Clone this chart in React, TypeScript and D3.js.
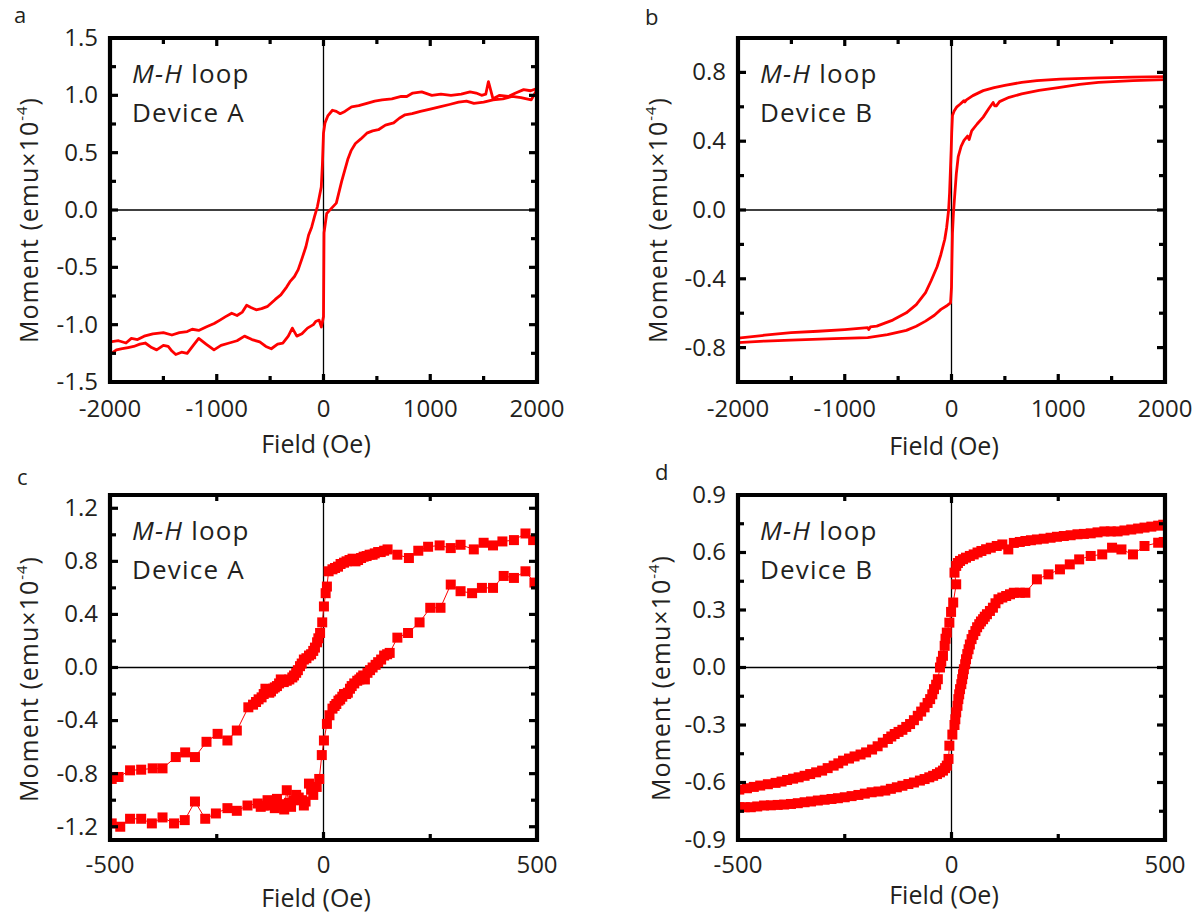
import React from 'react';
import * as d3 from 'd3';

const W = 1203;
const H = 918;
const RED = '#ff0000';
const INK = '#231f20';
const FONT = '"Open Sans", "Noto Sans", sans-serif';

type Pt = [number, number];

// ---- panel a : Device A, +-2000 Oe (line)
const aAscending: Pt[] = [
  [-2000, -1.26], [-1940, -1.22], [-1885, -1.21], [-1830, -1.2], [-1778, -1.19], [-1720, -1.17], [-1670, -1.16],
  [-1610, -1.2], [-1563, -1.22], [-1500, -1.18], [-1455, -1.19], [-1420, -1.23], [-1384, -1.26], [-1330, -1.24],
  [-1277, -1.25], [-1220, -1.18], [-1169, -1.12], [-1100, -1.17], [-1026, -1.22], [-960, -1.18], [-883, -1.16],
  [-810, -1.14], [-740, -1.1], [-670, -1.13], [-597, -1.15], [-540, -1.19], [-489, -1.21], [-430, -1.17],
  [-381, -1.16], [-330, -1.1], [-292, -1.03], [-250, -1.1], [-202, -1.08], [-150, -1.03], [-95, -1.0],
  [-70, -0.97], [-41, -0.96], [-20, -1.02], [0, -0.93], [5, -0.2], [30, -0.03], [70, 0.01], [120, 0.06],
  [170, 0.25], [227, 0.44], [260, 0.52], [299, 0.58], [350, 0.62], [406, 0.67], [460, 0.69], [514, 0.7],
  [580, 0.74], [657, 0.76], [710, 0.8], [764, 0.83], [830, 0.84], [908, 0.86], [1000, 0.88], [1087, 0.9],
  [1180, 0.92], [1266, 0.94], [1340, 0.95], [1409, 0.93], [1500, 0.94], [1588, 0.96], [1680, 0.97],
  [1767, 0.99], [1850, 0.98], [1946, 0.96], [2000, 1.05],
];
const aDescending: Pt[] = [
  [2000, 1.06], [1940, 1.04], [1875, 1.05], [1800, 1.02], [1731, 0.99], [1650, 1.0], [1588, 0.97],
  [1545, 1.12], [1520, 1.01], [1481, 1.0], [1430, 1.02], [1373, 1.03], [1290, 1.01], [1194, 1.0], [1100, 1.01],
  [1015, 1.0], [920, 1.03], [836, 1.02], [780, 0.99], [728, 0.99], [640, 0.97], [549, 0.96], [480, 0.95],
  [406, 0.93], [330, 0.91], [263, 0.9], [200, 0.86], [156, 0.84], [120, 0.86], [84, 0.87], [40, 0.82],
  [14, 0.76], [0, 0.67], [-10, 0.4], [-21, 0.2], [-57, 0.03], [-85, -0.06], [-111, -0.15], [-140, -0.22],
  [-165, -0.32], [-200, -0.42], [-237, -0.52], [-272, -0.58], [-310, -0.62], [-344, -0.67], [-400, -0.74],
  [-452, -0.78], [-523, -0.84], [-580, -0.86], [-631, -0.87], [-680, -0.85], [-720, -0.83], [-760, -0.89],
  [-810, -0.92], [-860, -0.9], [-917, -0.93], [-970, -0.96], [-1024, -0.99], [-1100, -1.02], [-1169, -1.05],
  [-1230, -1.04], [-1277, -1.06], [-1350, -1.07], [-1420, -1.09], [-1500, -1.07], [-1599, -1.08],
  [-1680, -1.1], [-1742, -1.13], [-1800, -1.12], [-1850, -1.16], [-1920, -1.14], [-2000, -1.15],
];

// ---- panel b : Device B, +-2000 Oe (line)
const bDescending: Pt[] = [
  [2000, 0.775], [1700, 0.772], [1377, 0.768], [1017, 0.761], [800, 0.752], [657, 0.742], [500, 0.725],
  [400, 0.712], [297, 0.694], [200, 0.665], [140, 0.64], [125, 0.628], [117, 0.636], [80, 0.615],
  [50, 0.6], [25, 0.575], [9, 0.55], [2, 0.45], [-3, 0.35], [-9, 0.25], [-18, 0.1], [-27, 0.0],
  [-45, -0.1], [-63, -0.17], [-100, -0.26], [-135, -0.33], [-190, -0.41], [-243, -0.48], [-330, -0.55],
  [-423, -0.598], [-550, -0.64], [-700, -0.675], [-760, -0.68], [-775, -0.695], [-785, -0.684],
  [-1000, -0.695], [-1250, -0.705], [-1503, -0.713], [-1750, -0.728], [-2000, -0.745],
];
const bAscending: Pt[] = [
  [-2000, -0.771], [-1750, -0.762], [-1503, -0.756], [-1100, -0.748], [-785, -0.742], [-600, -0.725],
  [-423, -0.7], [-330, -0.676], [-243, -0.646], [-160, -0.612], [-99, -0.578], [-40, -0.555], [-9, -0.54],
  [0, -0.45], [4, -0.3], [9, -0.135], [18, -0.02], [27, 0.058], [45, 0.21], [63, 0.31], [90, 0.37],
  [117, 0.405], [150, 0.43], [165, 0.41], [189, 0.46], [240, 0.5], [297, 0.54], [350, 0.59], [390, 0.625],
  [405, 0.605], [420, 0.605], [450, 0.63], [540, 0.655], [657, 0.675], [820, 0.695], [1017, 0.713],
  [1200, 0.73], [1377, 0.742], [1700, 0.752], [2000, 0.758],
];

// ---- panel c : Device A, +-500 Oe (squares)
const cDescending: Pt[] = [
  [491, 0.96], [473, 1.01], [446, 0.96], [419, 0.95], [397, 0.92], [375, 0.94], [352, 0.89], [321, 0.925],
  [298, 0.9], [272, 0.92], [245, 0.91], [222, 0.88], [200, 0.825], [173, 0.85], [150, 0.89], [142, 0.88],
  [134, 0.87], [128, 0.87], [120, 0.86], [115, 0.85], [108, 0.85], [101, 0.84], [94, 0.835], [88, 0.825],
  [81, 0.81], [75, 0.8], [68, 0.82], [61, 0.81], [54, 0.8], [48, 0.79], [40, 0.78], [34, 0.76], [27, 0.75],
  [21, 0.74], [12, 0.725], [8, 0.61], [5, 0.56], [1, 0.46], [-3, 0.34], [-8, 0.26], [-12, 0.22],
  [-15, 0.19], [-20, 0.15], [-24, 0.125], [-29, 0.1], [-34, 0.09], [-40, 0.07], [-46, 0.06], [-51, 0.03],
  [-55, 0.01], [-60, -0.02], [-64, -0.04], [-69, -0.06], [-73, -0.075], [-80, -0.09], [-86, -0.1],
  [-93, -0.11], [-100, -0.09], [-104, -0.12], [-109, -0.14], [-114, -0.15], [-118, -0.16], [-123, -0.18],
  [-127, -0.19], [-131, -0.17], [-136, -0.16], [-140, -0.2], [-145, -0.225], [-152, -0.24], [-158, -0.26],
  [-165, -0.28], [-176, -0.3], [-203, -0.475], [-225, -0.55], [-248, -0.5], [-274, -0.56], [-301, -0.675],
  [-324, -0.64], [-346, -0.675], [-377, -0.76], [-400, -0.76], [-427, -0.77], [-453, -0.775],
  [-480, -0.825], [-496, -0.84],
];
const cAscending: Pt[] = [
  [-496, -1.175], [-476, -1.2], [-453, -1.14], [-427, -1.14], [-402, -1.175], [-377, -1.13], [-350, -1.175],
  [-325, -1.15], [-301, -1.01], [-277, -1.14], [-252, -1.1], [-225, -1.06], [-203, -1.08], [-178, -1.04],
  [-154, -1.025], [-147, -1.05], [-140, -1.04], [-131, -1.0], [-125, -1.04], [-120, -1.025], [-114, -1.06],
  [-109, -0.99], [-103, -1.03], [-97, -1.04], [-92, -1.07], [-86, -0.925], [-81, -1.02], [-76, -1.05],
  [-70, -1.0], [-64, -0.96], [-58, -0.98], [-52, -1.0], [-46, -1.04], [-42, -1.01], [-34, -0.875],
  [-29, -0.92], [-24, -0.96], [-16, -0.9], [-10, -0.84], [-4, -0.66], [1, -0.55], [8, -0.425],
  [14, -0.36], [21, -0.31], [26, -0.29], [30, -0.275], [35, -0.25], [39, -0.24], [44, -0.22], [48, -0.2],
  [53, -0.2], [57, -0.19], [62, -0.16], [66, -0.14], [72, -0.12], [79, -0.1], [84, -0.09], [88, -0.075],
  [93, -0.06], [97, -0.09], [103, -0.04], [109, -0.02], [115, 0.0], [122, 0.02], [128, 0.04], [135, 0.06],
  [142, 0.09], [149, 0.1], [155, 0.11], [173, 0.225], [198, 0.26], [225, 0.34], [250, 0.45], [274, 0.45],
  [298, 0.625], [321, 0.575], [348, 0.56], [371, 0.6], [397, 0.6], [422, 0.69], [446, 0.675], [473, 0.725],
  [494, 0.64],
];

// ---- panel d : Device B, +-500 Oe (squares)
const dDescending: Pt[] = [
  [496, 0.745], [484, 0.74], [468, 0.735], [452, 0.73], [437, 0.725], [421, 0.72], [405, 0.715], [389, 0.71],
  [373, 0.71], [358, 0.71], [342, 0.705], [326, 0.7], [310, 0.697], [295, 0.695], [279, 0.69], [263, 0.686],
  [247, 0.682], [232, 0.677], [216, 0.672], [200, 0.668], [186, 0.664], [173, 0.66], [160, 0.655],
  [146, 0.65], [133, 0.616], [119, 0.642], [106, 0.634], [92, 0.625], [81, 0.617], [70, 0.608],
  [61, 0.6], [52, 0.59], [43, 0.582], [34, 0.573], [27, 0.565], [20, 0.556], [15, 0.545], [11, 0.53],
  [7, 0.495], [11, 0.434], [4, 0.339], [-1, 0.29], [-5, 0.234], [-11, 0.182], [-14, 0.15], [-16, 0.113],
  [-20, 0.061], [-24, 0.03], [-27, 0.0], [-32, -0.061], [-36, -0.09], [-41, -0.113], [-45, -0.14],
  [-50, -0.165], [-56, -0.185], [-63, -0.208], [-71, -0.23], [-79, -0.252], [-88, -0.275], [-97, -0.295],
  [-106, -0.31], [-115, -0.325], [-124, -0.336], [-133, -0.347], [-141, -0.36], [-149, -0.373],
  [-161, -0.392], [-173, -0.411], [-186, -0.428], [-200, -0.443], [-213, -0.454], [-227, -0.464],
  [-240, -0.475], [-254, -0.486], [-265, -0.5], [-276, -0.512], [-290, -0.525], [-303, -0.538],
  [-317, -0.547], [-331, -0.556], [-344, -0.565], [-358, -0.573], [-371, -0.58], [-385, -0.587],
  [-398, -0.595], [-412, -0.602], [-430, -0.609], [-448, -0.616], [-463, -0.623], [-479, -0.63],
  [-497, -0.637],
];
const dAscending: Pt[] = [
  [-497, -0.729], [-484, -0.729], [-470, -0.729], [-455, -0.725], [-439, -0.72], [-423, -0.719],
  [-407, -0.717], [-392, -0.715], [-376, -0.712], [-360, -0.708], [-344, -0.703], [-329, -0.699],
  [-313, -0.694], [-297, -0.69], [-281, -0.686], [-266, -0.682], [-250, -0.677], [-234, -0.671],
  [-218, -0.665], [-203, -0.658], [-187, -0.651], [-171, -0.647], [-155, -0.642], [-142, -0.633],
  [-128, -0.625], [-115, -0.617], [-101, -0.608], [-88, -0.6], [-74, -0.59], [-63, -0.582], [-52, -0.573],
  [-43, -0.565], [-34, -0.556], [-27, -0.547], [-20, -0.538], [-15, -0.525], [-11, -0.512], [-7, -0.477],
  [-5, -0.408], [2, -0.35], [7, -0.3], [9, -0.27], [11, -0.234], [14, -0.2], [16, -0.165], [18, -0.14],
  [20, -0.113], [23, -0.087], [25, -0.061], [27, -0.035], [29, -0.009], [32, 0.017], [34, 0.043],
  [37, 0.07], [40, 0.095], [43, 0.12], [47, 0.148], [51, 0.17], [56, 0.19], [60, 0.21], [65, 0.226],
  [69, 0.24], [74, 0.252], [78, 0.265], [83, 0.278], [90, 0.295], [97, 0.312], [103, 0.335], [110, 0.356],
  [119, 0.365], [128, 0.373], [137, 0.382], [146, 0.39], [160, 0.39], [173, 0.39], [200, 0.46],
  [227, 0.486], [254, 0.512], [277, 0.538], [299, 0.564], [326, 0.582], [353, 0.59], [376, 0.625],
  [398, 0.616], [425, 0.59], [452, 0.634], [484, 0.651], [497, 0.655],
];

// ---- ticks
const wideFieldMajor = [-2000, -1000, 0, 1000, 2000];
const wideFieldMinor = [-1500, -500, 500, 1500];
const narrowFieldMajor = [-500, 0, 500];
const narrowFieldMinor = [-250, 250];
const aMomentMajor = [-1.5, -1.0, -0.5, 0.0, 0.5, 1.0, 1.5];
const aMomentMinor = [-1.25, -0.75, -0.25, 0.25, 0.75, 1.25];
const bMomentMajor = [-0.8, -0.4, 0.0, 0.4, 0.8];
const bMomentMinor = [-1.0, -0.6, -0.2, 0.2, 0.6, 1.0];
const cMomentMajor = [-1.2, -0.8, -0.4, 0.0, 0.4, 0.8, 1.2];
const cMomentMinor = [-1.0, -0.6, -0.2, 0.2, 0.6, 1.0];
const dMomentMajor = [-0.9, -0.6, -0.3, 0.0, 0.3, 0.6, 0.9];
const dMomentMinor = [-0.75, -0.45, -0.15, 0.15, 0.45, 0.75];

type Cfg = {
  id: string;
  letter: string;
  device: string;
  left: number; right: number; top: number; bottom: number;
  xDomain: [number, number]; yDomain: [number, number];
  xMajor: number[]; xMinor: number[]; yMajor: number[]; yMinor: number[];
  series: Pt[][];
  squares: boolean;
  letterPos: [number, number];
  xTitlePos: [number, number];
  yTitlePos: [number, number];
  xTickBase: number;
};

const panels: Cfg[] = [
  {
    id: 'a', letter: 'a', device: 'Device A', left: 110, right: 537, top: 38, bottom: 382,
    xDomain: [-2000, 2000], yDomain: [-1.5, 1.5],
    xMajor: wideFieldMajor, xMinor: wideFieldMinor, yMajor: aMomentMajor, yMinor: aMomentMinor,
    series: [aAscending, aDescending], squares: false,
    letterPos: [14, 23], xTitlePos: [316, 453], yTitlePos: [38, 220], xTickBase: 417,
  },
  {
    id: 'b', letter: 'b', device: 'Device B', left: 738, right: 1165, top: 38, bottom: 382,
    xDomain: [-2000, 2000], yDomain: [-1.0, 1.0],
    xMajor: wideFieldMajor, xMinor: wideFieldMinor, yMajor: bMomentMajor, yMinor: bMomentMinor,
    series: [bAscending, bDescending], squares: false,
    letterPos: [645, 25], xTitlePos: [944, 455], yTitlePos: [667, 220], xTickBase: 417,
  },
  {
    id: 'c', letter: 'c', device: 'Device A', left: 110, right: 537, top: 495, bottom: 840,
    xDomain: [-500, 500], yDomain: [-1.3, 1.3],
    xMajor: narrowFieldMajor, xMinor: narrowFieldMinor, yMajor: cMomentMajor, yMinor: cMomentMinor,
    series: [cAscending, cDescending], squares: true,
    letterPos: [17, 485], xTitlePos: [316, 907], yTitlePos: [38, 679], xTickBase: 873,
  },
  {
    id: 'd', letter: 'd', device: 'Device B', left: 738, right: 1165, top: 495, bottom: 840,
    xDomain: [-500, 500], yDomain: [-0.9, 0.9],
    xMajor: narrowFieldMajor, xMinor: narrowFieldMinor, yMajor: dMomentMajor, yMinor: dMomentMinor,
    series: [dAscending, dDescending], squares: true,
    letterPos: [655, 480], xTitlePos: [944, 904], yTitlePos: [670, 678], xTickBase: 873,
  },
];

function Panel({ cfg }: { cfg: Cfg }) {
  const x = d3.scaleLinear().domain(cfg.xDomain).range([cfg.left, cfg.right]);
  const y = d3.scaleLinear().domain(cfg.yDomain).range([cfg.bottom, cfg.top]);
  const line = d3.line<Pt>().x((d) => x(d[0])).y((d) => y(d[1]));
  const clipId = `clip-${cfg.id}`;
  const sq = 10;
  const tickW = 3.2;
  const { left, right, top, bottom } = cfg;

  const yTicks = [
    ...cfg.yMajor.map((v) => ({ v, len: 8 })),
    ...cfg.yMinor.map((v) => ({ v, len: 6 })),
  ];
  const xTicks = [
    ...cfg.xMajor.map((v) => ({ v, len: 8 })),
    ...cfg.xMinor.map((v) => ({ v, len: 6 })),
  ];

  return (
    <g>
      <defs>
        <clipPath id={clipId}>
          <rect x={left} y={top} width={right - left} height={bottom - top} />
        </clipPath>
      </defs>

      {/* zero lines */}
      <line x1={x(0)} x2={x(0)} y1={top} y2={bottom} stroke="#000" strokeWidth={1.3} />
      <line x1={left} x2={right} y1={y(0)} y2={y(0)} stroke="#000" strokeWidth={1.3} />

      {/* data */}
      <g clipPath={`url(#${clipId})`}>
        {cfg.series.map((s, i) =>
          cfg.squares ? (
            <g key={i}>
              <path d={line(s) || ''} fill="none" stroke={RED} strokeWidth={1} />
              {s.map((p, j) => (
                <rect key={j} x={x(p[0]) - sq / 2} y={y(p[1]) - sq / 2} width={sq} height={sq} fill={RED} />
              ))}
            </g>
          ) : (
            <path key={i} d={line(s) || ''} fill="none" stroke={RED} strokeWidth={2.8} strokeLinejoin="round" />
          )
        )}
      </g>

      {/* ticks, inward on all four sides */}
      <g stroke="#000" strokeWidth={tickW}>
        {yTicks.map((t, i) => (
          <g key={`y${i}`}>
            <line x1={left} x2={left + t.len} y1={y(t.v)} y2={y(t.v)} />
            <line x1={right} x2={right - t.len} y1={y(t.v)} y2={y(t.v)} />
          </g>
        ))}
        {xTicks.map((t, i) => (
          <g key={`x${i}`}>
            <line x1={x(t.v)} x2={x(t.v)} y1={bottom} y2={bottom - t.len} />
            <line x1={x(t.v)} x2={x(t.v)} y1={top} y2={top + t.len} />
          </g>
        ))}
      </g>

      {/* heavy frame */}
      <path d={`M${left},${top}H${right}V${bottom}H${left}Z`} fill="none" stroke="#000" strokeWidth={4.2}
        strokeLinejoin="miter" />

      {/* tick labels */}
      <g fontFamily={FONT} fontSize={24} fill={INK}>
        {cfg.yMajor.map((v) => (
          <text key={v} x={left - 12} y={y(v)} dy="0.33em" textAnchor="end">{v.toFixed(1)}</text>
        ))}
        {cfg.xMajor.map((v) => (
          <text key={v} x={x(v)} y={cfg.xTickBase} textAnchor="middle">{String(v)}</text>
        ))}
      </g>

      {/* titles */}
      <text x={cfg.xTitlePos[0]} y={cfg.xTitlePos[1]} textAnchor="middle" fontFamily={FONT} fontSize={25} fill={INK}>
        Field (Oe)
      </text>
      <text transform={`translate(${cfg.yTitlePos[0]},${cfg.yTitlePos[1]}) rotate(-90)`} textAnchor="middle"
        fontFamily={FONT} fontSize={25} fill={INK} letterSpacing={1}>
        Moment (emu×10<tspan fontSize={15} dy={-11}>-4</tspan><tspan dy={11}>)</tspan>
      </text>

      {/* annotation */}
      <g fontFamily={FONT} fontSize={26} fill={INK} letterSpacing={1.2}>
        <text x={left + 22} y={top + 45}>
          <tspan fontStyle="italic">M-H</tspan> loop
        </text>
        <text x={left + 22} y={top + 84}>{cfg.device}</text>
      </g>

      <text x={cfg.letterPos[0]} y={cfg.letterPos[1]} fontFamily={FONT} fontSize={22} fill={INK}>{cfg.letter}</text>
    </g>
  );
}

export default function App() {
  return (
    <svg width={W} height={H} viewBox={`0 0 ${W} ${H}`}
      style={{ position: 'absolute', left: 0, top: 0, background: '#fff' }}>
      <rect width={W} height={H} fill="#fff" />
      {panels.map((p) => <Panel key={p.id} cfg={p} />)}
    </svg>
  );
}
